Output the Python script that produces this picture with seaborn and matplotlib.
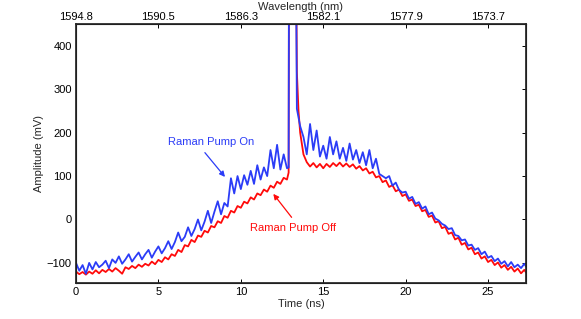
import numpy as np
import pandas as pd
import seaborn as sns
import matplotlib
matplotlib.use("Agg")
import matplotlib.pyplot as plt

# time samples (ns), extra points around the pump spike
time_ns = [
    0.0, 0.2, 0.4, 0.6, 0.8, 1.0, 1.2, 1.4, 1.6, 1.8,
    2.0, 2.2, 2.4, 2.6, 2.8, 3.0, 3.2, 3.4, 3.6, 3.8,
    4.0, 4.2, 4.4, 4.6, 4.8, 5.0, 5.2, 5.4, 5.6, 5.8,
    6.0, 6.2, 6.4, 6.6, 6.8, 7.0, 7.2, 7.4, 7.6, 7.8,
    8.0, 8.2, 8.4, 8.6, 8.8, 9.0, 9.2, 9.4, 9.6, 9.8,
    10.0, 10.2, 10.4, 10.6, 10.8, 11.0, 11.2, 11.4, 11.6, 11.8,
    12.0, 12.2, 12.4, 12.6, 12.8, 12.9, 12.95, 13.25, 13.4, 13.5,
    13.6, 13.8, 14.0, 14.2, 14.4, 14.6, 14.8, 15.0, 15.2, 15.4,
    15.6, 15.8, 16.0, 16.2, 16.4, 16.6, 16.8, 17.0, 17.2, 17.4,
    17.6, 17.8, 18.0, 18.2, 18.4, 18.6, 18.8, 19.0, 19.2, 19.4,
    19.6, 19.8, 20.0, 20.2, 20.4, 20.6, 20.8, 21.0, 21.2, 21.4,
    21.6, 21.8, 22.0, 22.2, 22.4, 22.6, 22.8, 23.0, 23.2, 23.4,
    23.6, 23.8, 24.0, 24.2, 24.4, 24.6, 24.8, 25.0, 25.2, 25.4,
    25.6, 25.8, 26.0, 26.2, 26.4, 26.6, 26.8, 27.0, 27.2, 27.3,
]

# Raman pump on (mV)
pump_on = [
    -100, -118, -105, -125, -100, -115, -98, -110, -104, -95,
    -112, -92, -100, -85, -102, -92, -80, -97, -86, -76,
    -92, -80, -70, -88, -74, -62, -78, -66, -50, -68,
    -52, -30, -50, -40, -18, -38, -22, 0, -25, -5,
    20, -8, 18, 42, 12, 38, 30, 95, 60, 100,
    70, 102, 80, 112, 82, 125, 92, 120, 100, 160,
    118, 172, 115, 150, 118, 120, 1200, 1200, 255, 235,
    215, 190, 150, 220, 160, 205, 145, 170, 140, 190,
    150, 180, 140, 165, 135, 175, 138, 160, 130, 155,
    125, 160, 118, 140, 105, 100, 95, 100, 78, 85,
    68, 62, 64, 48, 52, 36, 40, 25, 30, 12,
    16, 2, -2, -10, -14, -22, -20, -36, -38, -48,
    -46, -60, -58, -70, -66, -80, -74, -88, -84, -96,
    -90, -102, -96, -108, -98, -110, -104, -112, -102, -108,
]

# Raman pump off (mV)
pump_off = [
    -120, -126, -121, -127, -120, -125, -117, -124, -116, -121,
    -114, -120, -112, -118, -125, -110, -114, -107, -112, -104,
    -109, -102, -106, -97, -103, -93, -98, -87, -92, -80,
    -84, -70, -75, -59, -62, -47, -52, -37, -40, -26,
    -30, -15, -18, -4, -8, 8, 4, 20, 16, 31,
    27, 41, 37, 51, 46, 60, 56, 69, 64, 78,
    73, 87, 82, 96, 92, 108, 1200, 1200, 340, 250,
    200, 150, 132, 122, 130, 120, 128, 118, 128, 121,
    130, 123, 131, 122, 129, 121, 127, 117, 123, 113,
    118, 106, 110, 97, 100, 86, 90, 75, 79, 65,
    69, 54, 58, 43, 46, 31, 34, 19, 22, 6,
    9, -7, -4, -20, -17, -33, -30, -46, -42, -58,
    -54, -69, -65, -80, -76, -90, -85, -98, -93, -105,
    -99, -111, -105, -116, -109, -120, -113, -124, -116, -122,
]

time_ticks = [0, 5, 10, 15, 20, 25]
wavelength_labels = ["1594.8", "1590.5", "1586.3", "1582.1", "1577.9", "1573.7"]

BLUE = "#2b3cf7"
RED = "#ff0a0a"

sns.set_theme(style="white")
plt.rcParams["font.family"] = ["Liberation Sans", "DejaVu Sans"]

df = pd.DataFrame({"time": time_ns, "on": pump_on, "off": pump_off})

fig = plt.figure(figsize=(5.81, 3.19), dpi=100)
ax = fig.add_axes([0.1308, 0.1119, 0.7745, 0.8138])

sns.lineplot(data=df, x="time", y="off", color=RED, lw=1.3, sort=False,
             estimator=None, ax=ax)
sns.lineplot(data=df, x="time", y="on", color=BLUE, lw=1.3, sort=False,
             estimator=None, ax=ax)

ax.set_xlim(0, 27.3)
ax.set_ylim(-147, 451)
ax.set_xticks(time_ticks)
ax.set_yticks([-100, 0, 100, 200, 300, 400])
ax.set_yticklabels(["\u2212100", "0", "100", "200", "300", "400"])
ax.set_xlabel("Time (ns)", fontsize=8, labelpad=1)
ax.set_ylabel("Amplitude (mV)", fontsize=8, labelpad=2)
ax.tick_params(direction="in", length=3, width=0.7, labelsize=8,
               top=False, right=True, pad=3, colors="black")
for sp in ax.spines.values():
    sp.set_color("black")
    sp.set_linewidth(0.8)

ax2 = ax.twiny()
ax2.set_xlim(ax.get_xlim())
ax2.set_xticks(time_ticks)
ax2.set_xticklabels(wavelength_labels)
ax2.set_xlabel("Wavelength (nm)", fontsize=8, labelpad=2)
ax2.tick_params(direction="in", length=3, width=0.7, labelsize=8, pad=1,
                colors="black")

# labels and their pointer arrows
ax.text(8.2, 178, "Raman Pump On", color=BLUE, fontsize=8,
        ha="center", va="center")
ax.annotate("", xy=(9.04, 98), xytext=(7.82, 154),
            arrowprops=dict(arrowstyle="-|>", color=BLUE, lw=0.9,
                            mutation_scale=8, shrinkA=0, shrinkB=0))
ax.text(13.15, -20, "Raman Pump Off", color=RED, fontsize=8,
        ha="center", va="center")
ax.annotate("", xy=(11.97, 59), xytext=(13.08, 5),
            arrowprops=dict(arrowstyle="-|>", color=RED, lw=0.9,
                            mutation_scale=8, shrinkA=0, shrinkB=0))

fig.savefig("out.png", dpi=100)
